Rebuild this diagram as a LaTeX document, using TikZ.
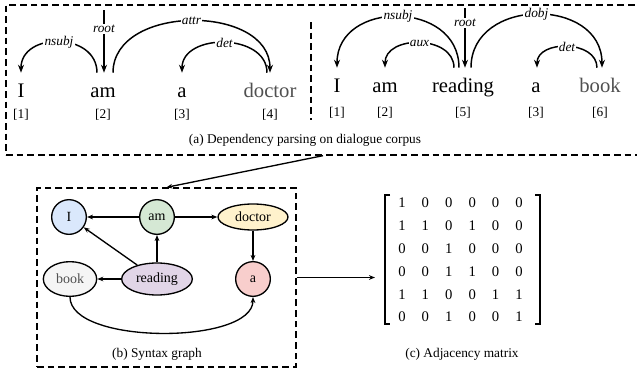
\documentclass[tikz,border=0pt]{standalone}
\usepackage{fontspec}
\setmainfont{Liberation Serif}
\usetikzlibrary{arrows.meta,shapes.geometric}

\definecolor{fillblue}{HTML}{DAE8FC}
\definecolor{fillgreen}{HTML}{D5E8D4}
\definecolor{fillyellow}{HTML}{FFF2CC}
\definecolor{fillgray}{HTML}{F5F5F5}
\definecolor{fillpurple}{HTML}{E1D5E7}
\definecolor{fillred}{HTML}{F8CECC}
\definecolor{wordgray}{HTML}{505050}

\begin{document}
\begin{tikzpicture}[x=0.75pt,y=-0.75pt,
  word/.style={font=\fontsize{15.5}{18}\selectfont, anchor=base, text height=11pt, text depth=3pt, inner xsep=1pt, inner ysep=7pt},
  idx/.style={font=\fontsize{10}{12}\selectfont},
  dep/.style={-{Stealth[length=6pt,width=4.5pt]}, line width=1.1pt},
  deplab/.style={font=\fontsize{10}{12}\selectfont\itshape, fill=white, inner sep=1pt},
  dashbox/.style={draw, dash pattern=on 5pt off 3pt, line width=1pt, inner sep=0pt},
  gnode/.style={draw, line width=1pt, font=\fontsize{10.5}{12}\selectfont, inner sep=0pt},
  gedge/.style={-{Stealth[length=4.5pt,width=3.5pt]}, line width=1pt},
  cell/.style={font=\fontsize{11}{13}\selectfont, inner sep=0pt},
  caption/.style={font=\fontsize{10}{12}\selectfont}]
\useasboundingbox (0,0) rectangle (637,375);

% (a) dependency parsing
\node[dashbox, minimum width=475.5pt, minimum height=112.5pt] (pbox) at (323,80) {};
\draw[dash pattern=on 5pt off 3pt, line width=1pt] (311,22) -- (311,120);

% first sentence
\node[word] (w1) at (21,97) {I};
\node[word] (w2) at (103,97) {am};
\node[word] (w3) at (182,97) {a};
\node[word, text=wordgray] (w4) at (270,97) {doctor};
\node[idx] at (21,115) {[1]};
\node[idx] at (103,115) {[2]};
\node[idx] at (182,115) {[3]};
\node[idx] at (270,115) {[4]};

\coordinate (root1) at (104,10);
\draw[dep] ([shift={(-6,0)}]w2.north) .. controls +(0,-41) and +(0,-41) .. (w1.north)
  node[deplab, pos=0.5] {nsubj};
\draw[dep] (root1) -- ([shift={(1,0)}]w2.north) node[deplab, pos=0.3] {root};
\draw[dep] ([shift={(10,0)}]w2.north) .. controls +(0,-69) and +(0,-69) .. (w4.north)
  node[deplab, pos=0.5] {attr};
\draw[dep] ([shift={(-3,0)}]w4.north) .. controls +(0,-40) and +(0,-40) .. (w3.north)
  node[deplab, pos=0.5] {det};

% second sentence
\node[word] (v1) at (337,92) {I};
\node[word] (v2) at (385,92) {am};
\node[word] (v5) at (463,92) {reading};
\node[word] (v3) at (536,92) {a};
\node[word, text=wordgray] (v6) at (600,92) {book};
\node[idx] at (337,113) {[1]};
\node[idx] at (385,113) {[2]};
\node[idx] at (463,113) {[5]};
\node[idx] at (536,113) {[3]};
\node[idx] at (600,113) {[6]};

\coordinate (root2) at (465,8);
\draw[dep] ([shift={(-4,0)}]v5.north) .. controls +(0,-68) and +(0,-68) .. (v1.north)
  node[deplab, pos=0.5] {nsubj};
\draw[dep] ([shift={(-9,0)}]v5.north) .. controls +(0,-33) and +(0,-33) .. (v2.north)
  node[deplab, pos=0.5] {aux};
\draw[dep] (root2) -- ([shift={(2,0)}]v5.north) node[deplab, pos=0.25] {root};
\draw[dep] ([shift={(8,0)}]v5.north) .. controls +(0,-71) and +(0,-71) .. ([shift={(2,0)}]v6.north)
  node[deplab, pos=0.5] {dobj};
\draw[dep] ([shift={(-3,0)}]v6.north) .. controls +(0,-28) and +(0,-28) .. ([shift={(1,0)}]v3.north)
  node[deplab, pos=0.5] {det};

\node[caption] at (305,140) {(a) Dependency parsing on dialogue corpus};

% (b) syntax graph
\node[dashbox, minimum width=194.25pt, minimum height=134.25pt] (gbox) at (166.5,277.5) {};
\node[gnode, circle, minimum size=26pt, fill=fillblue] (nI) at (69,217) {I};
\node[gnode, circle, minimum size=26pt, fill=fillgreen] (nam) at (157,217) {am};
\node[gnode, ellipse, minimum width=52.5pt, minimum height=19.5pt, fill=fillyellow] (ndoctor) at (253,217) {doctor};
\node[gnode, ellipse, minimum width=40pt, minimum height=26pt, fill=fillgray, text=wordgray] (nbook) at (70,279) {book};
\node[gnode, ellipse, minimum width=53pt, minimum height=24pt, fill=fillpurple] (nreading) at (157,279) {reading};
\node[gnode, circle, minimum size=26pt, fill=fillred] (na) at (253,279) {a};

\draw[gedge] (nam) -- (nI);
\draw[gedge] (nam) -- (ndoctor);
\draw[gedge] (nreading) -- (nI);
\draw[gedge] (nreading) -- (nam);
\draw[gedge] (nreading) -- (nbook);
\draw[gedge] (ndoctor) -- (na);
\draw[gedge] (nbook.south) .. controls +(0,48) and +(0,48) .. (na.south);

\node[caption] at (157,354) {(b) Syntax graph};

\draw[gedge] (pbox.south) -- (gbox.north);

% (c) adjacency matrix
\foreach \row [count=\r] in {{1,0,0,0,0,0},{1,1,0,1,0,0},{0,0,1,0,0,0},
                            {0,0,1,1,0,0},{1,1,0,0,1,1},{0,0,1,0,0,1}}
  \foreach \v [count=\c] in \row
    \node[cell] (m\r\c) at ({378.6+23.4*\c},{180.2+22.8*\r}) {\v};
\draw[line width=1.3pt] (390,195) -- (385,195) -- (385,324) -- (390,324);
\draw[line width=1.3pt] (535,195) -- (540,195) -- (540,324) -- (535,324);

\coordinate (mleft) at (375,277.5);
\draw[gedge] (gbox.east) -- (mleft);

\node[caption] at (462,354) {(c) Adjacency matrix};
\end{tikzpicture}
\end{document}
